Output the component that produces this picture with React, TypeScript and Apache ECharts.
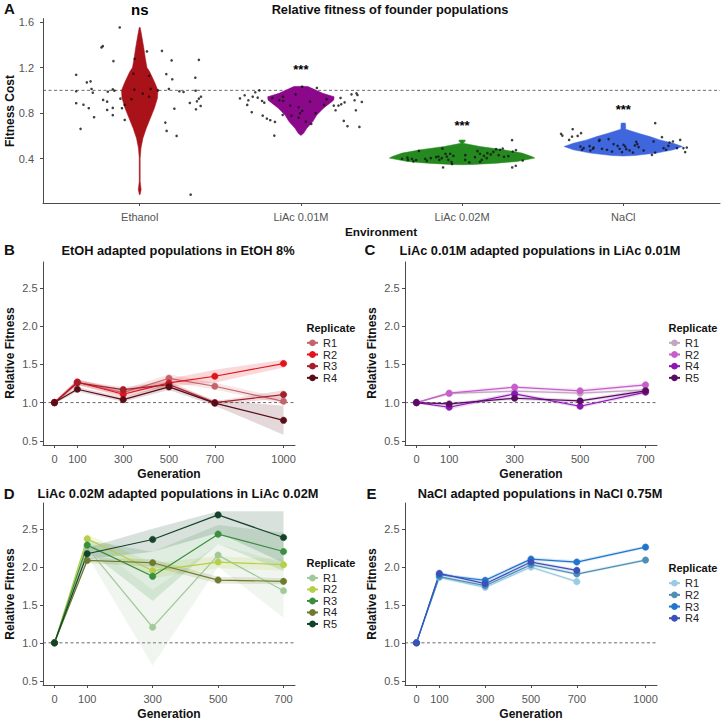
import React, { useEffect, useRef } from "react";
import * as echarts from "echarts";

// ---------- Panel A data ----------
const environments = ["Ethanol", "LiAc 0.01M", "LiAc 0.02M", "NaCl"];
const envColors = ["#aa1219", "#8b088b", "#24891f", "#3f66dc"];
const significance = ["ns", "***", "***", "***"];
const significanceY = [1.712, 1.187, 0.691, 0.834];

const ethanolViolinY = [1.552, 1.484, 1.368, 1.28, 1.2, 1.163, 1.076, 1.0, 0.93, 0.843, 0.755, 0.668, 0.58, 0.493, 0.405, 0.2, 0.128, 0.084];
const ethanolViolinW = [0.003, 0.012, 0.026, 0.035, 0.045, 0.062, 0.091, 0.113, 0.11, 0.091, 0.066, 0.041, 0.02, 0.008, 0.003, 0.003, 0.009, 0.002];
const liac01ViolinY = [1.036, 1.033, 1.018, 0.974, 0.944, 0.916, 0.901, 0.843, 0.784, 0.726, 0.668, 0.624, 0.603];
const liac01ViolinW = [0.0, 0.045, 0.068, 0.136, 0.206, 0.204, 0.192, 0.14, 0.099, 0.074, 0.037, 0.017, 0.0];
const liac02ViolinY = [0.565, 0.563, 0.548, 0.536, 0.507, 0.478, 0.449, 0.419, 0.405, 0.376, 0.361, 0.349, 0.347];
const liac02ViolinW = [0.0, 0.02, 0.017, 0.006, 0.111, 0.258, 0.372, 0.433, 0.451, 0.341, 0.217, 0.068, 0.0];
const naclViolinY = [0.714, 0.712, 0.659, 0.624, 0.594, 0.565, 0.536, 0.507, 0.478, 0.449, 0.428, 0.423];
const naclViolinW = [0.0, 0.014, 0.015, 0.093, 0.165, 0.227, 0.31, 0.367, 0.31, 0.204, 0.072, 0.0];

const ethanolPoints = [
  [0.876, 1.552], [0.771, 1.388], [0.763, 1.377], [0.837, 1.257], [1.045, 1.342], [1.138, 1.347], [0.969, 1.277], [1.198, 1.263], [1.367, 1.268],
  [0.606, 1.137], [0.672, 1.07], [0.695, 1.079], [0.961, 1.146], [1.058, 1.128], [1.165, 1.143], [1.202, 1.097], [1.345, 1.111], [0.606, 0.992],
  [0.701, 1.012], [0.709, 0.979], [0.833, 1.009], [0.843, 0.997], [0.802, 0.988], [0.967, 1.006], [1.019, 0.971], [1.068, 1.012], [1.113, 1.0],
  [1.181, 1.012], [1.246, 0.992], [1.272, 0.986], [1.347, 0.997], [1.38, 0.944], [1.367, 0.927], [1.058, 0.944], [0.949, 0.922], [0.88, 0.927],
  [0.773, 0.916], [0.798, 0.901], [0.606, 0.887], [0.651, 0.874], [0.684, 0.843], [0.798, 0.828], [0.833, 0.846], [0.89, 0.843], [0.907, 0.872],
  [0.833, 0.782], [0.717, 0.764], [0.907, 0.74], [1.215, 0.839], [1.311, 0.889], [1.349, 0.834], [1.378, 0.863], [1.355, 0.904], [1.159, 0.717],
  [1.167, 0.644], [1.229, 0.6], [0.633, 0.662], [1.316, 0.084],
];
const liac01Points = [
  [2.008, 1.032], [2.099, 1.021], [1.742, 1.0], [1.622, 0.93], [1.651, 0.957], [1.674, 0.913], [1.667, 0.872], [1.701, 0.944], [1.717, 0.983],
  [1.732, 0.936], [1.759, 0.907], [1.773, 0.892], [1.695, 0.808], [1.763, 0.778], [1.789, 0.752], [1.81, 0.738], [1.839, 0.723], [1.835, 0.603],
  [1.822, 0.933], [1.866, 0.913], [1.889, 0.944], [1.89, 0.907], [1.967, 0.965], [1.934, 0.866], [1.986, 0.852], [2.008, 0.819], [1.994, 0.799],
  [1.942, 0.778], [1.986, 0.761], [2.031, 0.726], [2.064, 0.705], [2.091, 0.799], [2.056, 0.901], [2.144, 0.872], [2.159, 0.922], [2.204, 0.866],
  [2.215, 0.825], [2.233, 0.866], [2.246, 0.933], [2.25, 0.878], [2.271, 0.895], [2.314, 0.965], [2.345, 0.974], [2.351, 0.959], [2.378, 0.898],
  [2.333, 0.913], [2.341, 0.825], [2.266, 0.732], [2.289, 0.685], [2.363, 0.679], [1.887, 0.784],
];
const liac02Points = [
  [2.732, 0.469], [2.661, 0.41], [2.664, 0.39], [2.689, 0.399], [2.698, 0.376], [2.627, 0.399], [2.715, 0.388], [2.771, 0.399], [2.781, 0.382],
  [2.806, 0.405], [2.839, 0.414], [2.853, 0.419], [2.859, 0.39], [2.874, 0.405], [2.878, 0.489], [2.897, 0.443], [2.905, 0.419], [2.915, 0.39],
  [2.934, 0.37], [2.938, 0.353], [2.926, 0.443], [2.946, 0.425], [2.882, 0.323], [3.02, 0.431], [3.019, 0.39], [3.045, 0.367], [3.08, 0.414],
  [3.095, 0.467], [3.111, 0.443], [3.122, 0.39], [3.136, 0.425], [3.153, 0.405], [3.157, 0.449], [3.178, 0.437], [3.194, 0.46], [3.211, 0.484],
  [3.227, 0.431], [3.235, 0.478], [3.252, 0.489], [3.26, 0.417], [3.287, 0.423], [3.314, 0.463], [3.334, 0.475], [3.31, 0.563], [3.376, 0.384],
  [3.311, 0.323], [3.333, 0.338], [3.111, 0.373],
];
const naclPoints = [
  [3.614, 0.618], [3.622, 0.603], [3.664, 0.565], [3.686, 0.659], [3.682, 0.594], [3.717, 0.6], [3.738, 0.624], [3.734, 0.507], [3.754, 0.493],
  [3.744, 0.478], [3.791, 0.51], [3.796, 0.472], [3.816, 0.498], [3.812, 0.487], [3.85, 0.557], [3.868, 0.487], [3.853, 0.565], [3.909, 0.572],
  [3.899, 0.478], [3.93, 0.463], [3.94, 0.528], [3.965, 0.513], [3.977, 0.487], [3.992, 0.458], [4.002, 0.522], [4.012, 0.507], [4.019, 0.484],
  [4.039, 0.472], [4.06, 0.454], [4.072, 0.516], [4.08, 0.548], [4.087, 0.528], [4.095, 0.502], [4.126, 0.472], [4.198, 0.712], [4.188, 0.551],
  [4.198, 0.454], [4.178, 0.434], [4.24, 0.589], [4.25, 0.493], [4.266, 0.478], [4.28, 0.513], [4.287, 0.542], [4.308, 0.551], [4.333, 0.493],
  [4.353, 0.565], [4.373, 0.493], [4.394, 0.498], [4.384, 0.458],
];

// ---------- Panels B-E data ----------
const gensLong = [0, 100, 300, 500, 700, 1000];
const gensShort = [0, 100, 300, 500, 700];
const fitnessTicks = [0.5, 1.0, 1.5, 2.0, 2.5];
const costTicks = [0.4, 0.8, 1.2, 1.6];

// B: EtOH
const etohNames = ["R1", "R2", "R3", "R4"];
const etohColors = ["#c4636b", "#e3121b", "#a31f2a", "#5a0d16"];
const etohR1 = [1.0, 1.265, 1.13, 1.318, 1.214, 1.017];
const etohR2 = [1.0, 1.27, 1.109, 1.257, 1.345, 1.511];
const etohR3 = [1.0, 1.26, 1.17, 1.236, 1.0, 1.105];
const etohR4 = [1.0, 1.175, 1.039, 1.205, 0.993, 0.768];
const etohR1Lo = [0.98, 1.23, 1.09, 1.27, 1.17, 0.98];
const etohR1Hi = [1.02, 1.3, 1.17, 1.37, 1.26, 1.06];
const etohR2Lo = [0.98, 1.23, 1.07, 1.21, 1.26, 1.46];
const etohR2Hi = [1.02, 1.31, 1.15, 1.31, 1.43, 1.56];
const etohR3Lo = [0.98, 1.23, 1.14, 1.2, 0.98, 1.05];
const etohR3Hi = [1.02, 1.29, 1.2, 1.28, 1.02, 1.16];
const etohR4Lo = [0.98, 1.145, 1.01, 1.165, 0.96, 0.58];
const etohR4Hi = [1.02, 1.205, 1.07, 1.245, 1.03, 0.96];

// C: LiAc 0.01M
const liac01Names = ["R1", "R2", "R4", "R5"];
const liac01Colors = ["#c2a6c2", "#c65fc9", "#8b17b3", "#5a0c62"];
const liac01R1 = [1.0, 1.12, 1.149, 1.123, 1.167];
const liac01R2 = [1.0, 1.123, 1.202, 1.154, 1.232];
const liac01R4 = [1.0, 0.939, 1.114, 0.952, 1.136];
const liac01R5 = [1.0, 0.982, 1.057, 1.022, 1.154];
const liac01R1Lo = [0.99, 1.1, 1.13, 1.1, 1.15];
const liac01R1Hi = [1.01, 1.14, 1.17, 1.14, 1.19];
const liac01R2Lo = [0.99, 1.1, 1.18, 1.13, 1.21];
const liac01R2Hi = [1.01, 1.145, 1.225, 1.18, 1.255];
const liac01R4Lo = [0.99, 0.91, 1.09, 0.93, 1.11];
const liac01R4Hi = [1.01, 0.965, 1.14, 0.975, 1.16];
const liac01R5Lo = [0.99, 0.96, 1.035, 1.0, 1.13];
const liac01R5Hi = [1.01, 1.005, 1.08, 1.045, 1.18];

// D: LiAc 0.02M
const liac02Names = ["R1", "R2", "R3", "R4", "R5"];
const liac02Colors = ["#a2c99a", "#b4cf48", "#3a8e3e", "#6d7b2c", "#14432a"];
const liac02R1 = [1.0, 2.25, 1.205, 2.154, 1.686];
const liac02R2 = [1.0, 2.369, 1.949, 2.063, 2.028];
const liac02R3 = [1.0, 2.286, 1.875, 2.43, 2.202];
const liac02R4 = [1.0, 2.084, 2.054, 1.826, 1.809];
const liac02R5 = [1.0, 2.172, 2.36, 2.683, 2.386];
const liac02R1Lo = [0.99, 2.15, 0.7, 2.0, 1.33];
const liac02R1Hi = [1.01, 2.35, 1.7, 2.3, 2.05];
const liac02R2Lo = [0.99, 2.3, 1.85, 1.98, 1.95];
const liac02R2Hi = [1.01, 2.43, 2.05, 2.14, 2.1];
const liac02R3Lo = [0.99, 2.22, 1.55, 2.3, 1.95];
const liac02R3Hi = [1.01, 2.35, 2.2, 2.55, 2.45];
const liac02R4Lo = [0.99, 2.05, 2.0, 1.78, 1.77];
const liac02R4Hi = [1.01, 2.12, 2.1, 1.87, 1.85];
const liac02R5Lo = [0.99, 2.1, 2.2, 2.45, 2.05];
const liac02R5Hi = [1.01, 2.25, 2.5, 2.73, 2.73];

// E: NaCl
const naclNames = ["R1", "R2", "R3", "R4"];
const naclColors = ["#9acbe4", "#4e8fb7", "#2176cc", "#3b51b8"];
const naclR1 = [1.0, 1.861, 1.73, 1.997, 1.805, null];
const naclR2 = [1.0, 1.87, 1.752, 2.028, 1.905, 2.089];
const naclR3 = [1.0, 1.896, 1.822, 2.102, 2.063, 2.259];
const naclR4 = [1.0, 1.914, 1.778, 2.063, 1.953, null];
const naclR1Lo = [0.99, 1.84, 1.71, 1.975, 1.785, null];
const naclR1Hi = [1.01, 1.88, 1.75, 2.02, 1.825, null];
const naclR2Lo = [0.99, 1.85, 1.73, 2.005, 1.885, 2.07];
const naclR2Hi = [1.01, 1.89, 1.77, 2.05, 1.925, 2.11];
const naclR3Lo = [0.99, 1.875, 1.8, 2.08, 2.04, 2.24];
const naclR3Hi = [1.01, 1.915, 1.845, 2.125, 2.085, 2.28];
const naclR4Lo = [0.99, 1.895, 1.755, 2.04, 1.93, null];
const naclR4Hi = [1.01, 1.935, 1.8, 2.085, 1.975, null];

type Num = number | null;
type Rep = { name: string; color: string; vals: Num[]; lo: Num[]; hi: Num[] };
type Panel = {
  key: string; title: string; gens: number[]; xMin: number; xMax: number; reps: Rep[];
};

const mkReps = (names: string[], colors: string[], vals: Num[][], lo: Num[][], hi: Num[][]): Rep[] =>
  names.map((n, i) => ({ name: n, color: colors[i], vals: vals[i], lo: lo[i], hi: hi[i] }));

const panels: Panel[] = [
  {
    key: "B", title: "EtOH adapted populations in EtOH 8%", gens: gensLong, xMin: -50, xMax: 1050,
    reps: mkReps(etohNames, etohColors, [etohR1, etohR2, etohR3, etohR4],
      [etohR1Lo, etohR2Lo, etohR3Lo, etohR4Lo], [etohR1Hi, etohR2Hi, etohR3Hi, etohR4Hi]),
  },
  {
    key: "C", title: "LiAc 0.01M adapted populations in LiAc 0.01M", gens: gensShort, xMin: -35, xMax: 735,
    reps: mkReps(liac01Names, liac01Colors, [liac01R1, liac01R2, liac01R4, liac01R5],
      [liac01R1Lo, liac01R2Lo, liac01R4Lo, liac01R5Lo], [liac01R1Hi, liac01R2Hi, liac01R4Hi, liac01R5Hi]),
  },
  {
    key: "D", title: "LiAc 0.02M adapted populations in LiAc 0.02M", gens: gensShort, xMin: -35, xMax: 735,
    reps: mkReps(liac02Names, liac02Colors, [liac02R1, liac02R2, liac02R3, liac02R4, liac02R5],
      [liac02R1Lo, liac02R2Lo, liac02R3Lo, liac02R4Lo, liac02R5Lo], [liac02R1Hi, liac02R2Hi, liac02R3Hi, liac02R4Hi, liac02R5Hi]),
  },
  {
    key: "E", title: "NaCl adapted populations in NaCl 0.75M", gens: gensLong, xMin: -50, xMax: 1050,
    reps: mkReps(naclNames, naclColors, [naclR1, naclR2, naclR3, naclR4],
      [naclR1Lo, naclR2Lo, naclR3Lo, naclR4Lo], [naclR1Hi, naclR2Hi, naclR3Hi, naclR4Hi]),
  },
];

const violinYs = [ethanolViolinY, liac01ViolinY, liac02ViolinY, naclViolinY];
const violinWs = [ethanolViolinW, liac01ViolinW, liac02ViolinW, naclViolinW];

const FONT = "'Liberation Sans', Arial, Helvetica, sans-serif";
const AXIS = "#4a4a4a";
const LABEL = "#555555";

function buildOption() {
  // layout (pixels)
  const grids = [
    { left: 43, top: 18.6, width: 677, height: 184.4 },
    { left: 43, top: 262, width: 252, height: 183 },
    { left: 405, top: 262, width: 252, height: 183 },
    { left: 43, top: 503, width: 252, height: 182 },
    { left: 405, top: 503, width: 252, height: 182 },
  ].map((g) => ({ ...g, outerBoundsMode: "none", containLabel: false }));

  const yMin = 0.445, yMax = 2.84;

  const baseAxis = {
    splitLine: { show: false },
    axisLine: { show: true, onZero: false, lineStyle: { color: AXIS, width: 1 } },
  };

  const xAxes: any[] = [
    {
      ...baseAxis, type: "value", gridIndex: 0, min: 0.4, max: 4.6,
      axisTick: { show: true, customValues: [1, 2, 3, 4], length: 3, lineStyle: { color: AXIS } },
      axisLabel: {
        customValues: [1, 2, 3, 4], color: LABEL, fontSize: 11, margin: 8, fontFamily: FONT,
        formatter: (v: number) => environments[Math.round(v) - 1],
      },
    },
  ];
  const yAxes: any[] = [
    {
      ...baseAxis, type: "value", gridIndex: 0, min: 0.011, max: 1.63,
      axisTick: { show: true, customValues: costTicks, length: 3, lineStyle: { color: AXIS } },
      axisLabel: {
        customValues: costTicks, color: LABEL, fontSize: 11, margin: 9, fontFamily: FONT,
        formatter: (v: number) => v.toFixed(1),
      },
    },
  ];

  panels.forEach((p, k) => {
    xAxes.push({
      ...baseAxis, type: "value", gridIndex: k + 1, min: p.xMin, max: p.xMax,
      axisTick: { show: true, customValues: p.gens, length: 3, lineStyle: { color: AXIS } },
      axisLabel: {
        customValues: p.gens, color: LABEL, fontSize: 11, margin: 8, fontFamily: FONT,
        formatter: (v: number) => String(Math.round(v)),
      },
    });
    yAxes.push({
      ...baseAxis, type: "value", gridIndex: k + 1, min: yMin, max: yMax,
      axisTick: { show: true, customValues: fitnessTicks, length: 3, lineStyle: { color: AXIS } },
      axisLabel: {
        customValues: fitnessTicks, color: LABEL, fontSize: 11, margin: 5.5, fontFamily: FONT,
        formatter: (v: number) => v.toFixed(1),
      },
    });
  });

  const series: any[] = [];

  const refLine = (axis: number, x0: number, x1: number) => ({
    type: "line", xAxisIndex: axis, yAxisIndex: axis, silent: true, z: 1,
    data: [[x0, 1], [x1, 1]], symbol: "none",
    lineStyle: { color: "#444", width: 0.8, type: [3, 2.5] },
  });
  series.push(refLine(0, 0.4, 4.6));

  // violins
  series.push({
    type: "custom", xAxisIndex: 0, yAxisIndex: 0, z: 2, silent: true,
    data: environments.map((_, i) => [i + 1, violinYs[i][0]]),
    renderItem: (params: any, api: any) => {
      const i = params.dataIndex;
      const ys = violinYs[i], ws = violinWs[i], c = i + 1;
      const left = ys.map((y, k) => api.coord([c - ws[k], y]));
      const right = ys.map((y, k) => api.coord([c + ws[k], y])).reverse();
      return {
        type: "polygon",
        shape: { points: left.concat(right) },
        style: { fill: envColors[i], stroke: envColors[i], lineWidth: 0.5 },
      };
    },
  });

  // jitter points
  series.push({
    type: "scatter", xAxisIndex: 0, yAxisIndex: 0, z: 3, silent: true,
    symbolSize: 2.6, itemStyle: { color: "#111" },
    data: [...ethanolPoints, ...liac01Points, ...liac02Points, ...naclPoints],
  });

  // significance labels
  series.push({
    type: "scatter", xAxisIndex: 0, yAxisIndex: 0, z: 4, silent: true, clip: false,
    symbolSize: 1, itemStyle: { color: "rgba(255,255,255,0)" },
    data: significance.map((s, i) => ({
      value: [i + 1, significanceY[i]],
      label: {
        show: true, position: "inside", formatter: s, color: "#000",
        textBorderWidth: 0, opacity: 1,
        fontWeight: "bold", fontSize: s === "ns" ? 15 : 13, fontFamily: FONT,
      },
    })),
  });

  const legends: any[] = [];
  const legendPos = [
    { left: 306, top: 337, gap: 11.67 },
    { left: 668, top: 337, gap: 11.67 },
    { left: 306, top: 572.2, gap: 11.5 },
    { left: 668, top: 577.3, gap: 11.7 },
  ];

  panels.forEach((p, k) => {
    const ax = k + 1;
    series.push(refLine(ax, p.xMin, p.xMax));
    p.reps.forEach((r) => {
      series.push({
        type: "custom", xAxisIndex: ax, yAxisIndex: ax, z: 2, silent: true,
        name: `${p.key}ribbon|${r.name}`,
        data: p.gens.map((g, i) => [g, r.vals[i] == null ? 1 : r.vals[i]]),
        renderItem: (params: any, api: any) => {
          if (params.dataIndex !== 0) return null;
          const top: number[][] = [], bot: number[][] = [];
          p.gens.forEach((g, i) => {
            const lo = r.lo[i], hi = r.hi[i];
            if (lo == null || hi == null) return;
            top.push(api.coord([g, hi]));
            bot.push(api.coord([g, lo]));
          });
          return {
            type: "polygon",
            shape: { points: top.concat(bot.reverse()) },
            style: { fill: r.color, opacity: 0.16 },
          };
        },
      });
    });
    p.reps.forEach((r) => {
      series.push({
        type: "line", xAxisIndex: ax, yAxisIndex: ax, z: 3, silent: true,
        name: `${p.key}|${r.name}`,
        data: p.gens.map((g, i) => [g, r.vals[i]]).filter((d) => d[1] != null),
        symbol: "circle", symbolSize: 6.5, showSymbol: true,
        lineStyle: { color: r.color, width: 1.2 },
        itemStyle: { color: r.color, borderColor: r.color, borderWidth: 0.5 },
      });
    });
    const lp = legendPos[k];
    legends.push({
      orient: "vertical", left: lp.left, top: lp.top, padding: 0,
      itemWidth: 11, itemHeight: 6, itemGap: 0, selectedMode: false,
      data: p.reps.map((r) => `${p.key}|${r.name}`),
      formatter: (n: string) => n.split("|")[1],
      textStyle: { fontSize: 11, color: "#222", fontFamily: FONT, lineHeight: lp.gap, padding: 0 },
    });
  });

  const txt = (text: string, x: number, y: number, size: number, opts: any = {}) => ({
    type: "text", x, y, rotation: opts.rotation || 0, silent: true,
    style: {
      text, fill: opts.color || "#111", font: `${opts.weight || "bold"} ${size}px ${FONT}`,
      align: opts.align || "center", verticalAlign: "middle",
    },
  });

  const graphics: any[] = [
    txt("A", 9.5, 8.5, 15),
    txt("B", 9.3, 249.5, 15),
    txt("C", 370, 249.5, 15),
    txt("D", 9.2, 493, 15),
    txt("E", 371.5, 493, 15),
    txt("Relative fitness of founder populations", 390, 9.5, 12.8),
    txt("Fitness Cost", 9.5, 111, 12, { rotation: Math.PI / 2 }),
    txt("Environment", 381, 231.5, 11.8),
    txt(panels[0].title, 178, 250, 12.8),
    txt(panels[1].title, 540, 250, 12.8),
    txt(panels[2].title, 178, 493.5, 12.8),
    txt(panels[3].title, 540, 493.5, 12.8),
    txt("Relative Fitness", 9.5, 353, 12, { rotation: Math.PI / 2 }),
    txt("Relative Fitness", 371.5, 353, 12, { rotation: Math.PI / 2 }),
    txt("Relative Fitness", 9.5, 594, 12, { rotation: Math.PI / 2 }),
    txt("Relative Fitness", 371.5, 594, 12, { rotation: Math.PI / 2 }),
    txt("Generation", 169, 473.5, 12),
    txt("Generation", 531, 473.5, 12),
    txt("Generation", 169, 714, 12),
    txt("Generation", 531, 714, 12),
    txt("Replicate", 306.5, 328, 11, { align: "left" }),
    txt("Replicate", 668.5, 328, 11, { align: "left" }),
    txt("Replicate", 306.5, 563, 11, { align: "left" }),
    txt("Replicate", 668.5, 568, 11, { align: "left" }),
  ];

  return {
    animation: false,
    backgroundColor: "#ffffff",
    textStyle: { fontFamily: FONT },
    grid: grids,
    xAxis: xAxes,
    yAxis: yAxes,
    legend: legends,
    series,
    graphic: graphics,
  };
}

export default function App() {
  const ref = useRef<HTMLDivElement>(null);
  useEffect(() => {
    if (!ref.current) return;
    const chart = echarts.init(ref.current, null, { renderer: "svg" });
    chart.setOption(buildOption() as any);
    return () => chart.dispose();
  }, []);
  return (
    <div
      ref={ref}
      style={{ position: "absolute", left: 0, top: 0, width: 724, height: 724, background: "#fff" }}
    />
  );
}
